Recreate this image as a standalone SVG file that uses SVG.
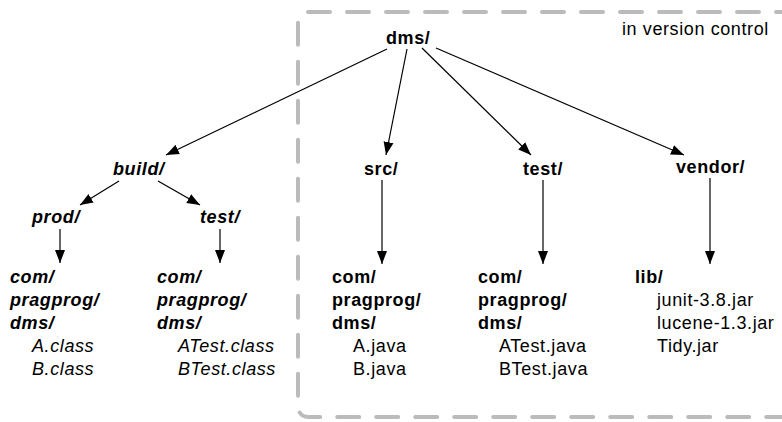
<svg xmlns="http://www.w3.org/2000/svg" width="782" height="422" viewBox="0 0 782 422">
<style>
text{font-family:"Liberation Sans",Arial,Helvetica,sans-serif;font-size:18px;letter-spacing:0.6px;fill:#000}
.b{font-weight:bold}
.bi{font-weight:bold;font-style:italic}
.i{font-style:italic}
.conn{stroke:#000;stroke-width:1.2;fill:none;marker-end:url(#ah)}
.vc{fill:none;stroke:#bbbbbb;stroke-width:4;stroke-dasharray:22 17;stroke-linecap:round}
</style>
<defs>
<marker id="ah" markerUnits="userSpaceOnUse" markerWidth="14" markerHeight="12" viewBox="0 0 14 12" refX="13" refY="6" orient="auto">
<path d="M0,1 L13,6 L0,11 Z" fill="#000"/>
</marker>
</defs>
<rect id="version-control" class="vc" x="298" y="12" width="520" height="405" rx="10"/>
<text x="622" y="35">in version control</text>
<g id="connectors">
<line class="conn" x1="387" y1="49" x2="166" y2="155"/>
<line class="conn" x1="407" y1="49" x2="386" y2="155"/>
<line class="conn" x1="422" y1="48" x2="531" y2="155"/>
<line class="conn" x1="436" y1="48" x2="684" y2="155"/>
<line class="conn" x1="119" y1="181" x2="80" y2="205"/>
<line class="conn" x1="158" y1="181" x2="200" y2="205"/>
<line class="conn" x1="60" y1="229" x2="60" y2="263"/>
<line class="conn" x1="220" y1="229" x2="220" y2="263"/>
<line class="conn" x1="382" y1="180" x2="382" y2="264"/>
<line class="conn" x1="543" y1="180" x2="543" y2="264"/>
<line class="conn" x1="710" y1="178" x2="710" y2="264"/>
</g>
<g id="dms"><text class="b" x="386" y="44">dms/</text></g>
<g id="build"><text class="bi" x="113" y="175">build/</text></g>
<g id="src"><text class="b" x="364" y="175">src/</text></g>
<g id="test"><text class="b" x="523" y="175">test/</text></g>
<g id="vendor"><text class="b" x="676" y="173">vendor/</text></g>
<g id="prod"><text class="bi" x="32" y="223">prod/</text></g>
<g id="build-test"><text class="bi" x="200" y="223">test/</text></g>
<g id="prod-classes">
<text class="bi" x="10" y="283">com/</text>
<text class="bi" x="10" y="306">pragprog/</text>
<text class="bi" x="10" y="329">dms/</text>
<text class="i" x="32" y="352">A.class</text>
<text class="i" x="32" y="375">B.class</text>
</g>
<g id="test-classes">
<text class="bi" x="157" y="283">com/</text>
<text class="bi" x="157" y="306">pragprog/</text>
<text class="bi" x="157" y="329">dms/</text>
<text class="i" x="178" y="352">ATest.class</text>
<text class="i" x="178" y="375">BTest.class</text>
</g>
<g id="src-files">
<text class="b" x="332" y="283">com/</text>
<text class="b" x="332" y="306">pragprog/</text>
<text class="b" x="332" y="329">dms/</text>
<text x="353" y="352">A.java</text>
<text x="353" y="375">B.java</text>
</g>
<g id="test-files">
<text class="b" x="478" y="283">com/</text>
<text class="b" x="478" y="306">pragprog/</text>
<text class="b" x="478" y="329">dms/</text>
<text x="499" y="352">ATest.java</text>
<text x="499" y="375">BTest.java</text>
</g>
<g id="lib-files">
<text class="b" x="635" y="283">lib/</text>
<text x="657" y="306">junit-3.8.jar</text>
<text x="657" y="329">lucene-1.3.jar</text>
<text x="657" y="352">Tidy.jar</text>
</g>
</svg>
